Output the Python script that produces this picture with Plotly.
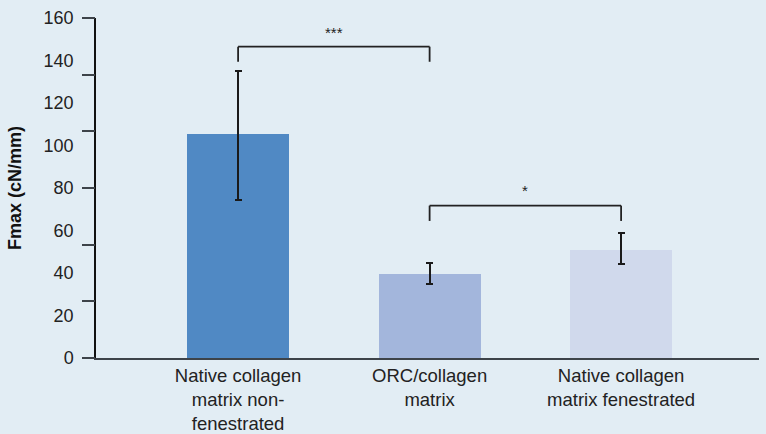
import plotly.graph_objects as go

# Data
categories = ["Native collagen<br>matrix non-<br>fenestrated",
              "ORC/collagen<br>matrix",
              "Native collagen<br>matrix fenestrated"]
fmax = [105.4, 39.5, 50.8]
err_plus = [29.6, 5.2, 8.0]
err_minus = [31.0, 4.7, 6.6]
bar_colors = ["#5089C4", "#A3B6DC", "#D0D9EC"]

y_label_vals = [0, 20, 40, 60, 80, 100, 120, 140, 160]
y_tick_marks = [0, 160 / 6, 320 / 6, 80, 640 / 6, 800 / 6, 160]

# Significance brackets: (left index, right index, bar height, leg bottom, label, label y)
brackets = [(0, 1, 146.5, 139.4, "***", 153.4),
            (1, 2, 71.7, 64.5, "*", 78.7)]

fig = go.Figure()
fig.add_trace(go.Bar(
    x=categories, y=fmax, width=0.533,
    marker=dict(color=bar_colors, line=dict(width=0)),
    error_y=dict(type="data", symmetric=False, array=err_plus, arrayminus=err_minus,
                 color="#1a1a1a", thickness=1.8, width=3.5),
    showlegend=False,
))
# invisible trace carrying the tick-mark axis
fig.add_trace(go.Scatter(x=[categories[0]], y=[0], yaxis="y2", mode="markers",
                         marker=dict(opacity=0), showlegend=False, hoverinfo="skip"))

for left, right, top, leg, label, ly in brackets:
    xl, xr = categories[left], categories[right]
    fig.add_shape(type="line", x0=xl, x1=xl, y0=leg, y1=top, line=dict(color="#222", width=1.8))
    fig.add_shape(type="line", x0=xl, x1=xr, y0=top, y1=top, line=dict(color="#222", width=1.8))
    fig.add_shape(type="line", x0=xr, x1=xr, y0=leg, y1=top, line=dict(color="#222", width=1.8))
    fig.add_annotation(x=(left + right) / 2, y=ly, text=label, showarrow=False,
                       font=dict(size=15, color="#222"))

fig.update_layout(
    width=766, height=434,
    margin=dict(l=96, r=7, t=18, b=76),
    paper_bgcolor="#E2EDF4", plot_bgcolor="#E2EDF4",
    font=dict(family="Liberation Sans, Arial, sans-serif", size=18, color="#222"),
    bargap=0,
    xaxis=dict(range=[-0.742, 2.72], showgrid=False, zeroline=False, automargin=False,
               showline=True, linecolor="#3d4349", linewidth=2,
               ticks="", tickfont=dict(size=18.5, color="#222")),
    yaxis=dict(range=[0, 160], tickvals=y_label_vals, showgrid=False, zeroline=False,
               automargin=False,
               showline=True, linecolor="#111", linewidth=1.5,
               ticks="outside", ticklen=13, tickcolor="rgba(0,0,0,0)",
               ticklabelstandoff=4,
               tickfont=dict(size=18, color="#222"),
               title=dict(text="<b>Fmax (cN/mm)</b>", font=dict(size=18, color="#111"),
                          standoff=17)),
    yaxis2=dict(range=[0, 160], overlaying="y", side="left", tickvals=y_tick_marks,
                showticklabels=False, showgrid=False, zeroline=False, automargin=False,
                showline=False, ticks="outside", ticklen=13, tickwidth=2,
                tickcolor="#3d4349"),
)

fig.write_html("out.html")
